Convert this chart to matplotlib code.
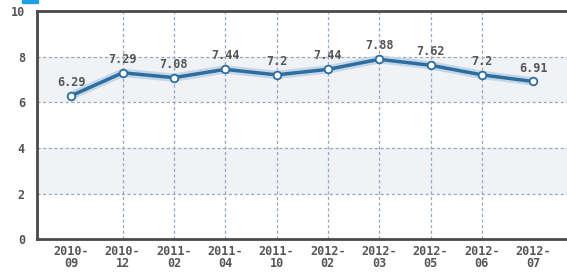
import matplotlib.pyplot as plt
from matplotlib.patches import Rectangle

# values
months = ['2010-\n09', '2010-\n12', '2011-\n02', '2011-\n04', '2011-\n10',
          '2012-\n02', '2012-\n03', '2012-\n05', '2012-\n06', '2012-\n07']
values = [6.29, 7.29, 7.08, 7.44, 7.2, 7.44, 7.88, 7.62, 7.2, 6.91]
value_labels = ['6.29', '7.29', '7.08', '7.44', '7.2', '7.44', '7.88', '7.62', '7.2', '6.91']
yticks = [0, 2, 4, 6, 8, 10]

text_color = '#555555'
line_color = '#2e6e9e'
grid_color = '#97a9ba'
font = 'DejaVu Sans Mono'

fig = plt.figure(figsize=(5.67, 2.72), dpi=100)
ax = fig.add_axes([0.066, 0.12, 0.934, 0.84])

x = list(range(len(values)))
ax.set_xlim(-0.66, len(values) - 0.34)
ax.set_ylim(0, 10)

# alternating shaded bands
for lo, hi in [(2, 4), (6, 8)]:
    ax.axhspan(lo, hi, color='#f0f2f6', zorder=0, lw=0)

# grid
for y in [2, 4, 6, 8]:
    ax.axhline(y, color=grid_color, ls=(0, (2.5, 2)), lw=0.9, zorder=1)
for xi in x[1:-1]:
    ax.axvline(xi, color=grid_color, ls=(0, (2.5, 2)), lw=0.9, zorder=1)

# soft glow under line, then the line itself
ax.plot(x, values, color='#c3d7e8', lw=6, zorder=2, solid_capstyle='round')
ax.plot(x, values, color=line_color, lw=2.5, zorder=3, marker='o', markersize=5.5,
        markerfacecolor='white', markeredgecolor=line_color, markeredgewidth=1.3)

for xi, v, lab in zip(x, values, value_labels):
    ax.annotate(lab, (xi, v), xytext=(0, 5), textcoords='offset points',
                ha='center', va='bottom', fontsize=8.5, fontweight='bold',
                family=font, color=text_color, zorder=4)

ax.set_xticks(x)
ax.set_xticklabels(months, fontsize=8.5, fontweight='bold', color=text_color,
                   family=font, linespacing=0.95)
ax.set_yticks(yticks)
ax.set_yticklabels([str(t) for t in yticks], fontsize=8.5, fontweight='bold',
                   family=font, color=text_color)
ax.tick_params(length=0, pad=9)
ax.tick_params(axis='x', pad=4)

for side in ['left', 'bottom', 'top']:
    ax.spines[side].set_color('#4a4a4a')
    ax.spines[side].set_linewidth(2)
ax.spines['right'].set_visible(False)

# little blue tab in the top-left corner
fig.patches.append(Rectangle((22 / 567, 1 - 3 / 272), 16 / 567, 3 / 272,
                             transform=fig.transFigure, color='#1ba1e2'))

fig.savefig('out.png', dpi=100)
